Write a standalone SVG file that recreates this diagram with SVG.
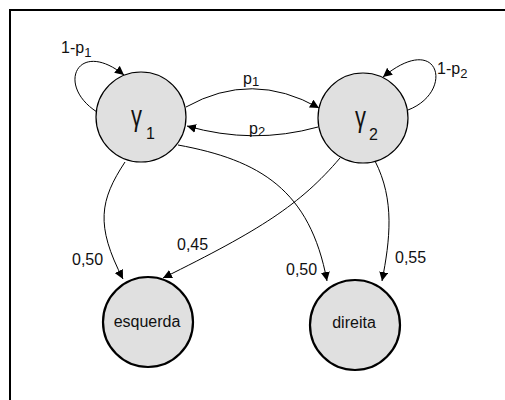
<svg xmlns="http://www.w3.org/2000/svg" width="505" height="400" viewBox="0 0 505 400">
<style>
.node{fill:#e0e0e0;stroke:#000;stroke-width:1.2}
.final{fill:#e0e0e0;stroke:#000;stroke-width:2.2}
.edge{fill:none;stroke:#000;stroke-width:1;marker-end:url(#arr)}
text{font-family:"Liberation Sans",Arial,sans-serif;fill:#111}
.lbl{font-size:16px}
.sub{font-size:13px}
.g{font-size:30px}
.gs{font-size:16px}
.nl{font-size:16px}
</style>
<defs>
<marker id="arr" viewBox="0 0 10 10" refX="10" refY="5" markerWidth="9" markerHeight="9" markerUnits="userSpaceOnUse" orient="auto">
<path d="M0,0 L10,5 L0,10 z" fill="#000"/>
</marker>
</defs>
<rect width="505" height="400" fill="#fff"/>
<path d="M10,401 L10,10 L506,10" fill="none" stroke="#000" stroke-width="2"/>
<g id="connectors">
<path class="edge" d="M97,112 C55,85 78,38 124,75"/>
<path class="edge" d="M408,110 C455,92 440,30 383,77"/>
<path class="edge" d="M186,107 Q252,70 319,108"/>
<path class="edge" d="M318,127 Q253,145 187,126"/>
<path class="edge" d="M125,162 C100,200 95,225 123,279"/>
<path class="edge" d="M375,161 C395,200 390,240 382,281"/>
<path class="edge" d="M178,145 C260,160 310,190 327,281"/>
<path class="edge" d="M340,158 C300,205 260,230 163,278"/>
<text class="lbl" x="61" y="53">1-p<tspan class="sub" dy="4">1</tspan></text>
<text class="lbl" x="437" y="74">1-p<tspan class="sub" dy="4">2</tspan></text>
<text class="lbl" x="243" y="84">p<tspan class="sub" dy="2">1</tspan></text>
<text class="lbl" x="249" y="134">p<tspan class="sub" dy="2">2</tspan></text>
<text class="lbl" x="72" y="265">0,50</text>
<text class="lbl" x="177" y="250">0,45</text>
<text class="lbl" x="286" y="275">0,50</text>
<text class="lbl" x="395" y="263">0,55</text>
</g>
<g id="gamma1">
<circle class="node" cx="141" cy="117" r="45"/>
<text class="g" x="131" y="126" textLength="11" lengthAdjust="spacingAndGlyphs">γ</text>
<text class="gs" x="146" y="139">1</text>
</g>
<g id="gamma2">
<circle class="node" cx="363" cy="118" r="45"/>
<text class="g" x="355" y="127" textLength="11" lengthAdjust="spacingAndGlyphs">γ</text>
<text class="gs" x="369" y="140">2</text>
</g>
<g id="esquerda">
<circle class="final" cx="148" cy="322" r="45"/>
<text class="nl" x="147" y="327" text-anchor="middle">esquerda</text>
</g>
<g id="direita">
<circle class="final" cx="355" cy="325" r="45"/>
<text class="nl" x="354" y="328" text-anchor="middle">direita</text>
</g>
</svg>
